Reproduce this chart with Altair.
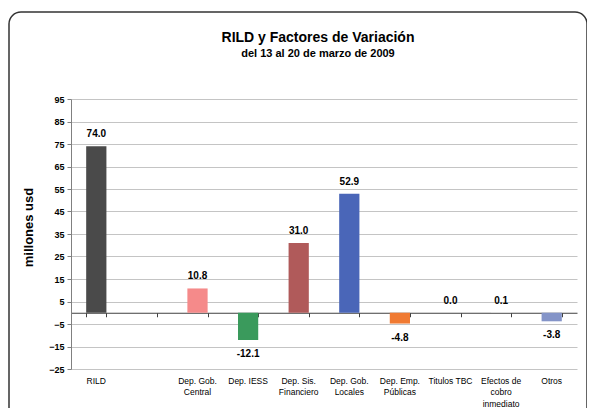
import altair as alt
import pandas as pd

categories = ["RILD", " ", "Dep. Gob.|Central", "Dep. IESS", "Dep. Sis.|Financiero",
              "Dep. Gob.|Locales", "Dep. Emp.|Públicas", "Titulos TBC",
              "Efectos de|cobro|inmediato", "Otros"]
values = [74.0, None, 10.8, -12.1, 31.0, 52.9, -4.8, 0.0, 0.1, -3.8]
colors = ["#4a4a4a", "#ffffff", "#f58a8a", "#3a9a5c", "#b05a5a",
          "#4a66b8", "#f07a32", "#ffffff", "#ffffff", "#8494c8"]
y_ticks = [-25, -15, -5, 5, 15, 25, 35, 45, 55, 65, 75, 85, 95]

FONT = "Liberation Sans Narrow, Arial Narrow, Liberation Sans, Arial"

rows = []
for c, v in zip(categories, values):
    if v is None:
        continue
    rows.append({"cat": c, "val": v, "lab": f"{v:.1f}"})
df = pd.DataFrame(rows)

W, H = 506, 270
xscale = alt.Scale(domain=categories, paddingInner=0.6, paddingOuter=0.3)
yscale = alt.Scale(domain=[-25, 95], nice=False, zero=False)

bars = alt.Chart(df).mark_bar().encode(
    x=alt.X("cat:N", sort=categories, scale=xscale, title=None,
            axis=alt.Axis(orient="bottom", domain=False, ticks=False, labelAngle=0,
                          labelExpr="split(datum.label, '|')",
                          labelFont=FONT, labelFontSize=8.5, labelColor="#000000",
                          labelPadding=7, labelLineHeight=11.5, labelBaseline="top")),
    y=alt.Y("val:Q", scale=yscale, title="millones usd",
            axis=alt.Axis(values=y_ticks, tickCount=13, labelOverlap=False,
                          grid=True, gridColor="#c4c4c4",
                          domainColor="#808080", tickColor="#808080", tickSize=4,
                          labelFont=FONT, labelFontSize=9, labelFontWeight="bold",
                          labelColor="#000000", labelPadding=3,
                          titleFont="Liberation Sans, Arial", titleFontSize=13,
                          titleFontWeight="bold", titleColor="#000000",
                          titleX=-36, titleY=128, titleAngle=270)),
    y2=alt.datum(0),
    color=alt.Color("cat:N", scale=alt.Scale(domain=categories, range=colors), legend=None),
)

pos = alt.Chart(df).transform_filter("datum.val >= 0").mark_text(
    baseline="bottom", dy=-7, font=FONT, fontSize=10, fontWeight="bold", color="#000000"
).encode(
    x=alt.X("cat:N", sort=categories, scale=xscale, title=None,
            axis=alt.Axis(orient="bottom", labels=False, domain=True,
                          domainColor="#404040", domainWidth=1,
                          ticks=True, tickBand="extent", tickColor="#404040", tickSize=4,
                          offset=-56.25, grid=False)),
    y=alt.Y("val:Q", scale=yscale),
    text="lab:N",
)

neg = alt.Chart(df).transform_filter("datum.val < 0").mark_text(
    baseline="top", dy=9, font=FONT, fontSize=10, fontWeight="bold", color="#000000"
).encode(
    x=alt.X("cat:N", sort=categories, scale=xscale, axis=None),
    y=alt.Y("val:Q", scale=yscale),
    text="lab:N",
)

frame = alt.Chart(pd.DataFrame({"k": [0]})).mark_rect(
    filled=False, stroke="#333333", strokeWidth=1.5, cornerRadius=12
).encode(
    x=alt.value(-62), x2=alt.value(516), y=alt.value(-87), y2=alt.value(330)
)

chart = alt.layer(frame, bars, pos, neg).resolve_axis(x="independent").properties(
    width=W, height=H,
    autosize=alt.AutoSizeParams(type="none"),
    padding={"left": 63, "top": 91, "right": 10, "bottom": 39},
    title=alt.TitleParams(
        text="RILD y Factores de Variación",
        subtitle="del 13 al 20 de marzo de 2009",
        font=FONT, fontSize=14, fontWeight="bold", color="#000000",
        subtitleFont=FONT, subtitleFontSize=11, subtitleFontWeight="bold",
        subtitleColor="#000000", subtitlePadding=3,
        anchor="middle", frame="group", dx=-6, offset=-48,
    ),
).configure_view(stroke=None)

chart.save("out.html", embed_options={"renderer": "svg", "actions": False})
